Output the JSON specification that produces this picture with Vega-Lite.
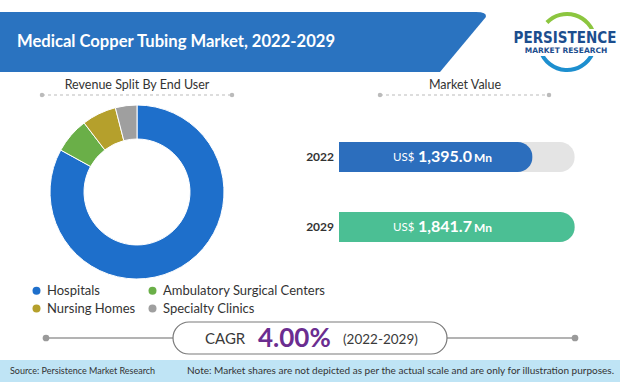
{
  "$schema": "https://vega.github.io/schema/vega-lite/v6.json",
  "width": 620,
  "height": 382,
  "autosize": {"type": "none"},
  "padding": 0,
  "background": "white",
  "config": {"view": {"stroke": null}, "font": "Lato"},
  "datasets": {
    "endUser": [
      {"segment": "Hospitals", "share": 83.0},
      {"segment": "Ambulatory Surgical Centers", "share": 6.6},
      {"segment": "Nursing Homes", "share": 6.4},
      {"segment": "Specialty Clinics", "share": 4.0}
    ],
    "market": [
      {"year": "2022", "value": 1395.0},
      {"year": "2029", "value": 1841.7}
    ],
    "cagr": [{"metric": "CAGR", "value": 0.04, "period": "(2022-2029)"}],
    "blank": [{}]
  },
  "resolve": {
    "scale": {"x": "independent", "y": "independent", "color": "independent", "theta": "independent"},
    "legend": {"color": "independent"}
  },
  "layer": [
    {"data": {"name": "blank"}, "mark": {"type": "rect", "x": 0, "x2": 432, "y": 12, "y2": 72, "fill": "#2a73c0"}, "encoding": {}},
    {"data": {"name": "blank"}, "mark": {"type": "point", "shape": "M -1 -1 L 0.7 -1 Q 1.07 -1 1.03 -0.83 L -0.5 1 L -1 1 Z", "x": 455, "y": 42, "size": 3600, "filled": true, "fill": "#2a73c0", "opacity": 1, "strokeWidth": 0}, "encoding": {}},
    {"data": {"name": "blank"}, "mark": {"type": "rule", "x": 453, "y": 69, "x2": 500, "y2": 20, "stroke": "#2b6cb7", "strokeWidth": 8, "strokeCap": "round"}, "encoding": {}},
    {"data": {"name": "blank"}, "mark": {"type": "rule", "x": 485, "y": 52, "x2": 513, "y2": 22, "stroke": "#2b6cb7", "strokeWidth": 7, "strokeCap": "round"}, "encoding": {}},
    {"data": {"name": "blank"}, "mark": {"type": "rule", "x": 485, "y": 52, "x2": 497, "y2": 39, "stroke": "#2aa9e0", "strokeWidth": 7, "strokeCap": "round"}, "encoding": {}},
    {"data": {"name": "blank"}, "mark": {"type": "text", "x": 17, "y": 42, "align": "left", "baseline": "middle", "text": "Medical Copper Tubing Market, 2022-2029", "font": "Lato", "fontSize": 16.6, "fontWeight": "bold", "color": "white"}, "encoding": {}},
    {"data": {"name": "blank"}, "mark": {"type": "arc", "x": 567, "y": 42, "outerRadius": 30, "innerRadius": 26, "theta": -0.8, "theta2": 1.4, "fill": "#8cc63f"}, "encoding": {}},
    {"data": {"name": "blank"}, "mark": {"type": "arc", "x": 567, "y": 42, "outerRadius": 30, "innerRadius": 26, "theta": 2.0, "theta2": 4.4, "fill": "#1d8fcf"}, "encoding": {}},
    {"data": {"name": "blank"}, "mark": {"type": "rect", "x": 518, "x2": 612, "y": 29, "y2": 56, "fill": "white"}, "encoding": {}},
    {"data": {"name": "blank"}, "mark": {"type": "text", "x": 565, "y": 38, "align": "center", "baseline": "middle", "text": "PERSISTENCE", "font": "DejaVu Sans Condensed, Roboto", "fontSize": 15, "fontWeight": "bold", "color": "#1c4e8e"}, "encoding": {}},
    {"data": {"name": "blank"}, "mark": {"type": "text", "x": 566, "y": 51, "align": "center", "baseline": "middle", "text": "MARKET RESEARCH", "font": "DejaVu Sans", "fontSize": 7.5, "fontWeight": "bold", "color": "#1c4e8e"}, "encoding": {}},

    {"data": {"name": "blank"}, "mark": {"type": "text", "x": 137, "y": 85, "align": "center", "baseline": "middle", "text": "Revenue Split By End User", "fontSize": 12.5, "color": "#333333"}, "encoding": {}},
    {"data": {"name": "blank"}, "mark": {"type": "rule", "stroke": "#bbbbbb", "strokeWidth": 1.2, "strokeDash": [3, 3]}, "encoding": {"x": {"value": 42}, "x2": {"value": 232}, "y": {"value": 95}}},
    {"data": {"name": "blank"}, "mark": {"type": "circle", "x": 42, "y": 95, "size": 20, "fill": "#bbbbbb", "opacity": 1}, "encoding": {}},
    {"data": {"name": "blank"}, "mark": {"type": "circle", "x": 232, "y": 95, "size": 20, "fill": "#bbbbbb", "opacity": 1}, "encoding": {}},
    {"data": {"name": "blank"}, "mark": {"type": "text", "x": 465, "y": 85, "align": "center", "baseline": "middle", "text": "Market Value", "fontSize": 12.5, "color": "#333333"}, "encoding": {}},
    {"data": {"name": "blank"}, "mark": {"type": "rule", "stroke": "#bbbbbb", "strokeWidth": 1.2, "strokeDash": [3, 3]}, "encoding": {"x": {"value": 380}, "x2": {"value": 549}, "y": {"value": 95}}},
    {"data": {"name": "blank"}, "mark": {"type": "circle", "x": 380, "y": 95, "size": 20, "fill": "#bbbbbb", "opacity": 1}, "encoding": {}},
    {"data": {"name": "blank"}, "mark": {"type": "circle", "x": 549, "y": 95, "size": 20, "fill": "#bbbbbb", "opacity": 1}, "encoding": {}},

    {
      "data": {"name": "endUser"},
      "transform": [{"window": [{"op": "row_number", "as": "rank"}]}],
      "mark": {"type": "arc", "x": 137, "y": 192, "outerRadius": 87, "innerRadius": 53, "stroke": "white", "strokeWidth": 1},
      "encoding": {
        "theta": {"field": "share", "type": "quantitative", "stack": true},
        "order": {"field": "rank", "type": "quantitative"},
        "color": {
          "field": "segment", "type": "nominal",
          "scale": {"domain": ["Hospitals", "Nursing Homes", "Ambulatory Surgical Centers", "Specialty Clinics"], "range": ["#1e6fcb", "#b5a02c", "#6aaf48", "#9f9f9f"]},
          "legend": {"title": null, "orient": "none", "legendX": 30, "legendY": 284, "columns": 2, "symbolType": "circle", "symbolSize": 64, "symbolStrokeWidth": 0, "labelFont": "Lato", "labelFontSize": 13, "labelColor": "#333333", "labelOffset": 4, "labelLimit": 250, "columnPadding": 10, "rowPadding": 4, "padding": 0}
        }
      }
    },

    {
      "data": {"name": "market"},
      "transform": [{"joinaggregate": [{"op": "max", "field": "value", "as": "track"}]}],
      "encoding": {
        "y": {"field": "year", "type": "nominal", "axis": null, "scale": {"domain": ["2022", "2029"], "range": [142, 242], "paddingInner": 0.571, "paddingOuter": 0}}
      },
      "layer": [
        {"mark": {"type": "bar", "color": "#e4e4e4", "cornerRadiusEnd": 15}, "encoding": {"x": {"field": "track", "type": "quantitative", "axis": null, "scale": {"type": "pow", "exponent": 0.71, "domain": [0, 1841.7], "range": [339, 589]}}}},
        {"mark": {"type": "bar", "cornerRadiusEnd": 15}, "encoding": {"x": {"field": "value", "type": "quantitative"}, "color": {"field": "year", "type": "nominal", "scale": {"domain": ["2022", "2029"], "range": ["#2c6ebd", "#4bbf94"]}, "legend": null}}},
        {"mark": {"type": "text", "align": "right", "baseline": "middle", "dx": -5, "fontSize": 12, "fontWeight": "bold", "color": "#333333"}, "encoding": {"x": {"datum": 0}, "text": {"field": "year"}}},
        {"mark": {"type": "text", "align": "left", "baseline": "middle", "dx": 54, "dy": 1, "fontSize": 11.5, "color": "white", "text": "US$"}, "encoding": {"x": {"datum": 0}}},
        {"mark": {"type": "text", "align": "left", "baseline": "middle", "dx": 79, "fontSize": 16, "fontWeight": "bold", "color": "white"}, "encoding": {"x": {"datum": 0}, "text": {"field": "value", "type": "quantitative", "format": ",.1f"}}},
        {"mark": {"type": "text", "align": "left", "baseline": "middle", "dx": 135, "dy": 1, "fontSize": 12, "fontWeight": "bold", "color": "white", "text": "Mn"}, "encoding": {"x": {"datum": 0}}}
      ]
    },

    {"data": {"name": "blank"}, "mark": {"type": "rule", "stroke": "#9a9a9a", "strokeWidth": 1.5}, "encoding": {"x": {"value": 46}, "x2": {"value": 175}, "y": {"value": 338}}},
    {"data": {"name": "blank"}, "mark": {"type": "rule", "stroke": "#9a9a9a", "strokeWidth": 1.5}, "encoding": {"x": {"value": 445}, "x2": {"value": 575}, "y": {"value": 338}}},
    {"data": {"name": "blank"}, "mark": {"type": "circle", "x": 46, "y": 338, "size": 45, "fill": "#9a9a9a", "opacity": 1}, "encoding": {}},
    {"data": {"name": "blank"}, "mark": {"type": "circle", "x": 575, "y": 338, "size": 45, "fill": "#9a9a9a", "opacity": 1}, "encoding": {}},
    {"data": {"name": "blank"}, "mark": {"type": "rect", "x": 173, "x2": 447, "y": 322, "y2": 354, "cornerRadius": 16, "fill": "white", "stroke": "#7a7a7a", "strokeWidth": 1.2}, "encoding": {}},
    {"data": {"name": "cagr"}, "mark": {"type": "text", "x": 205, "y": 344, "align": "left", "baseline": "alphabetic", "fontSize": 15, "color": "#3a3a3a"}, "encoding": {"text": {"field": "metric"}}},
    {"data": {"name": "cagr"}, "mark": {"type": "text", "x": 258, "y": 347, "align": "left", "baseline": "alphabetic", "fontSize": 26, "fontWeight": "bold", "color": "#6b2d90"}, "encoding": {"text": {"field": "value", "type": "quantitative", "format": ".2%"}}},
    {"data": {"name": "cagr"}, "mark": {"type": "text", "x": 343, "y": 344, "align": "left", "baseline": "alphabetic", "fontSize": 13.5, "color": "#3a3a3a"}, "encoding": {"text": {"field": "period"}}},

    {"data": {"name": "blank"}, "mark": {"type": "rect", "x": 0, "x2": 620, "y": 360, "y2": 382, "fill": "#bfe4f5"}, "encoding": {}},
    {"data": {"name": "blank"}, "mark": {"type": "text", "x": 10, "y": 371, "align": "left", "baseline": "middle", "text": "Source: Persistence Market Research", "fontSize": 9, "color": "#333333"}, "encoding": {}},
    {"data": {"name": "blank"}, "mark": {"type": "text", "x": 614, "y": 371, "align": "right", "baseline": "middle", "text": "Note: Market shares are not depicted as per the actual scale and are only for illustration purposes.", "fontSize": 10, "color": "#333333"}, "encoding": {}}
  ]
}
